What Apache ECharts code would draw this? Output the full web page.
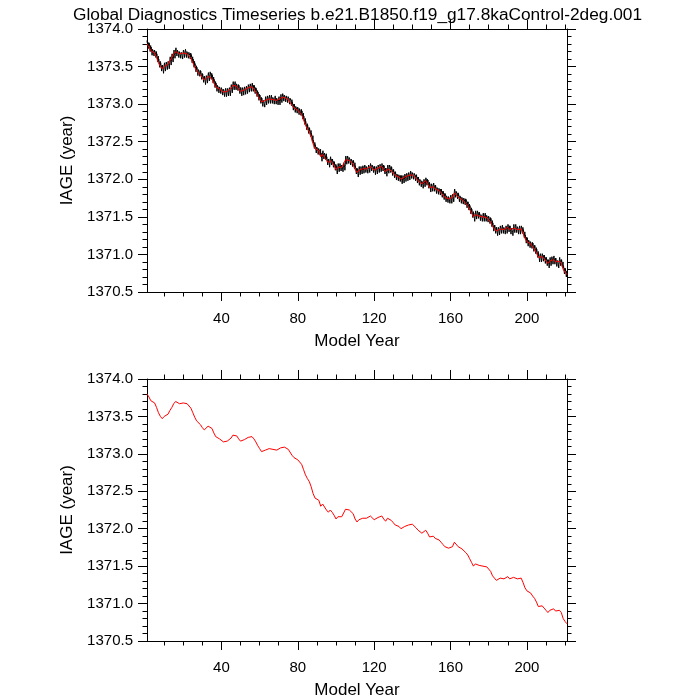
<!DOCTYPE html>
<html>
<head>
<meta charset="utf-8">
<title>IAGE timeseries</title>
<script src="https://cdn.jsdelivr.net/npm/echarts@6/dist/echarts.min.js"></script>
<style>
  html, body { margin: 0; padding: 0; background: #fff; }
  #chart { width: 700px; height: 700px; }
</style>
</head>
<body>
<div id="chart"></div>
<script>
// annual mean IAGE, model years 1..221
var annualIage = [
  1373.80, 1373.76, 1373.71, 1373.70, 1373.68, 1373.62, 1373.55, 1373.50, 1373.47, 1373.50,
  1373.52, 1373.53, 1373.58, 1373.62, 1373.67, 1373.70, 1373.68, 1373.67, 1373.66, 1373.68,
  1373.68, 1373.67, 1373.66, 1373.61, 1373.55, 1373.49, 1373.44, 1373.43, 1373.39, 1373.35,
  1373.32, 1373.34, 1373.37, 1373.39, 1373.34, 1373.28, 1373.23, 1373.21, 1373.20, 1373.18,
  1373.16, 1373.16, 1373.17, 1373.17, 1373.21, 1373.25, 1373.25, 1373.24, 1373.20, 1373.17,
  1373.18, 1373.19, 1373.20, 1373.22, 1373.23, 1373.23, 1373.20, 1373.16, 1373.11, 1373.07,
  1373.03, 1373.02, 1373.05, 1373.07, 1373.07, 1373.07, 1373.06, 1373.06, 1373.05, 1373.05,
  1373.08, 1373.10, 1373.09, 1373.08, 1373.06, 1373.04, 1372.98, 1372.95, 1372.94, 1372.92,
  1372.91, 1372.86, 1372.79, 1372.72, 1372.67, 1372.63, 1372.56, 1372.47, 1372.41, 1372.39,
  1372.38, 1372.30, 1372.33, 1372.32, 1372.25, 1372.22, 1372.25, 1372.22, 1372.18, 1372.13,
  1372.16, 1372.17, 1372.16, 1372.18, 1372.26, 1372.27, 1372.25, 1372.23, 1372.20, 1372.13,
  1372.09, 1372.12, 1372.13, 1372.14, 1372.15, 1372.14, 1372.15, 1372.17, 1372.15, 1372.12,
  1372.13, 1372.15, 1372.16, 1372.17, 1372.13, 1372.10, 1372.14, 1372.15, 1372.11, 1372.08,
  1372.05, 1372.04, 1372.03, 1372.00, 1372.01, 1372.03, 1372.04, 1372.05, 1372.07, 1372.06,
  1372.04, 1372.01, 1371.98, 1371.96, 1371.94, 1371.96, 1371.98, 1371.94, 1371.89, 1371.90,
  1371.90, 1371.87, 1371.86, 1371.85, 1371.82, 1371.79, 1371.76, 1371.75, 1371.74, 1371.74,
  1371.76, 1371.82, 1371.80, 1371.76, 1371.74, 1371.73, 1371.72, 1371.68, 1371.65, 1371.60,
  1371.55, 1371.50, 1371.53, 1371.54, 1371.51, 1371.50, 1371.50, 1371.50, 1371.49, 1371.47,
  1371.43, 1371.37, 1371.34, 1371.31, 1371.32, 1371.34, 1371.34, 1371.33, 1371.34, 1371.36,
  1371.33, 1371.31, 1371.35, 1371.35, 1371.33, 1371.33, 1371.34, 1371.28, 1371.21, 1371.17,
  1371.15, 1371.14, 1371.10, 1371.07, 1371.02, 1370.96, 1370.96, 1370.97, 1370.94, 1370.91,
  1370.88, 1370.91, 1370.93, 1370.93, 1370.90, 1370.88, 1370.91, 1370.88, 1370.80, 1370.76,
  1370.73
];
// typical monthly departure from the annual mean (black curve, Jan..Dec)
var monthlyOffset = [0.02, 0.04, 0.05, 0.03, 0.01, -0.01, -0.02, -0.03, -0.06, -0.07, -0.01, 0.02];

var majorYears = [40, 80, 120, 160, 200];
var minorYears = [10, 20, 30, 50, 60, 70, 90, 100, 110, 130, 140, 150, 170, 180, 190, 210, 220];

var firstYear = 1;
var font = 'Liberation Sans';

var annualData = annualIage.map(function (v, i) { return [firstYear + i, v]; });
var monthlyData = [];
for (var y = 0; y < annualIage.length - 1; y++) {
    for (var m = 0; m < 12; m++) {
        monthlyData.push([firstYear + y + m / 12, annualIage[y] + monthlyOffset[m]]);
    }
}
monthlyData.push([firstYear + annualIage.length - 1, annualIage[annualIage.length - 1] + monthlyOffset[0]]);

var xMin = 1, xMax = 221, yMin = 1370.5, yMax = 1374.0;

function xAxes(grid) {
    var line = { show: true, lineStyle: { color: '#000', width: 1 } };
    var base = { type: 'value', gridIndex: grid, min: xMin, max: xMax, splitLine: { show: false } };
    return [
        Object.assign({}, base, {
            position: 'bottom', axisLine: line,
            axisTick: { show: true, length: 9, customValues: majorYears, lineStyle: { color: '#000' } },
            axisLabel: { show: true, customValues: majorYears, margin: 19, color: '#000', fontSize: 15, fontFamily: font },
            name: 'Model Year', nameLocation: 'middle', nameGap: 41,
            nameTextStyle: { color: '#000', fontSize: 17, fontFamily: font }
        }),
        Object.assign({}, base, {
            position: 'bottom', axisLine: { show: false },
            axisTick: { show: true, length: 4.5, customValues: minorYears, lineStyle: { color: '#000' } },
            axisLabel: { show: false }
        }),
        Object.assign({}, base, {
            position: 'top', axisLine: line,
            axisTick: { show: true, length: 9, customValues: majorYears, lineStyle: { color: '#000' } },
            axisLabel: { show: false }
        }),
        Object.assign({}, base, {
            position: 'top', axisLine: { show: false },
            axisTick: { show: true, length: 4.5, customValues: minorYears, lineStyle: { color: '#000' } },
            axisLabel: { show: false }
        })
    ];
}

function yAxes(grid) {
    var base = {
        type: 'value', gridIndex: grid, min: yMin, max: yMax, interval: 0.5,
        splitLine: { show: false },
        axisLine: { show: true, lineStyle: { color: '#000', width: 1 } },
        axisTick: { show: true, length: 9, lineStyle: { color: '#000' } },
        minorTick: { show: true, splitNumber: 5, length: 4.5, lineStyle: { color: '#000' } }
    };
    return [
        Object.assign({}, base, {
            position: 'left',
            axisLabel: {
                margin: 14, color: '#000', fontSize: 15, fontFamily: font,
                formatter: function (v) { return v.toFixed(1); }
            },
            name: 'IAGE (year)', nameLocation: 'middle', nameGap: 70,
            nameTextStyle: { color: '#000', fontSize: 17, fontFamily: font }
        }),
        Object.assign({}, base, { position: 'right', axisLabel: { show: false } })
    ];
}

var chart = echarts.init(document.getElementById('chart'));
var option = {
    animation: false,
    backgroundColor: '#fff',
    title: {
        text: 'Global Diagnostics Timeseries b.e21.B1850.f19_g17.8kaControl-2deg.001',
        left: 68, top: 2,
        textStyle: { color: '#000', fontSize: 17.3, fontWeight: 'normal', fontFamily: font }
    },
    grid: [
        { left: 147, right: 133, top: 29, height: 263 },
        { left: 147, right: 133, top: 379, height: 262 }
    ],
    xAxis: xAxes(0).concat(xAxes(1)),
    yAxis: yAxes(0).concat(yAxes(1)),
    series: [
        {
            type: 'line', xAxisIndex: 0, yAxisIndex: 0, data: monthlyData,
            showSymbol: false, lineStyle: { color: '#000', width: 1 }, clip: true
        },
        {
            type: 'line', xAxisIndex: 0, yAxisIndex: 0, data: annualData,
            showSymbol: false, lineStyle: { color: '#ff0000', width: 1 }, clip: true
        },
        {
            type: 'line', xAxisIndex: 4, yAxisIndex: 2, data: annualData,
            showSymbol: false, lineStyle: { color: '#ff0000', width: 1 }, clip: true
        }
    ]
};
chart.setOption(option);
</script>
</body>
</html>
